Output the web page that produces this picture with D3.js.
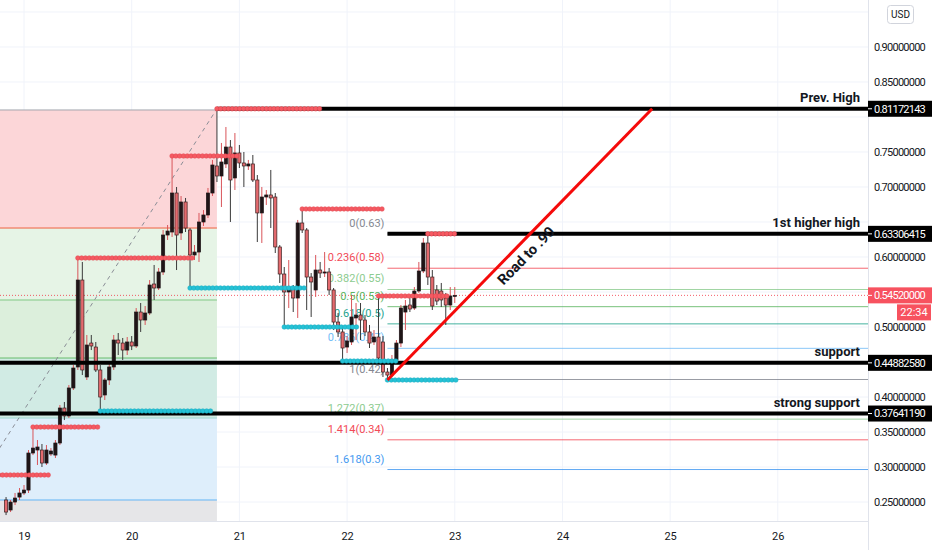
<!DOCTYPE html>
<html><head><meta charset="utf-8">
<script src="https://cdn.jsdelivr.net/npm/d3@7"></script>
<style>
html,body{margin:0;padding:0;background:#fff;}
svg{display:block;font-family:Roboto,"DejaVu Sans",sans-serif;}
</style></head><body>
<svg id="c" width="932" height="550"></svg>
<script>
// ---------------- DATA ----------------
// hourly candles, first candle = 18th 20:00 (hour -4 relative to 19th 00:00)
const firstHour = -4;
const opens = [0.2529,0.2386,0.2500,0.2571,0.2629,0.2671,0.3200,0.3243,0.3243,0.3057,
0.3186,0.3171,0.3343,0.3843,0.3729,0.4129,0.4429,0.5671,0.4286,0.4771,
0.4714,0.4386,0.4029,0.4243,0.4429,0.4814,0.4771,0.4671,0.4786,0.4729,
0.5214,0.5100,0.5200,0.5614,0.5557,0.5786,0.6314,0.6357,0.6914,0.6343,
0.6786,0.6386,0.6029,0.6071,0.6500,0.6600,0.6914,0.7300,0.7157,0.7329,
0.7571,0.7129,0.7486,0.7343,0.7300,0.7329,0.7100,0.6629,0.6857,0.6886,
0.6857,0.6143,0.5757,0.5500,0.5543,0.5414,0.6486,0.6386,0.5714,0.5529,
0.5814,0.5771,0.5786,0.5529,0.5071,0.4929,0.4714,0.4786,0.5129,0.5171,
0.5100,0.4929,0.4786,0.4857,0.4786,0.4357,0.4314,0.4529,0.4771,0.5214,
0.5314,0.5271,0.5514,0.5800,0.6200,0.5714,0.5529,0.5514,0.5414,0.5314,
0.5443];
const highs = [0.2571,0.2529,0.2629,0.2700,0.2743,0.3243,0.3571,0.3386,0.3329,0.3314,
0.3271,0.3386,0.3886,0.3929,0.4171,0.4457,0.5986,0.5929,0.4886,0.4886,
0.4786,0.4457,0.4271,0.4500,0.4886,0.4914,0.4843,0.4857,0.4871,0.5271,
0.5343,0.5300,0.5671,0.5886,0.5843,0.6386,0.6457,0.7443,0.7000,0.6871,
0.6843,0.6414,0.6171,0.6629,0.6671,0.6986,0.7386,0.8117,0.7629,0.7857,
0.7671,0.7771,0.7600,0.7500,0.7386,0.7457,0.7171,0.7000,0.6957,0.7243,
0.6914,0.6171,0.5857,0.5957,0.5600,0.6529,0.6686,0.6414,0.5771,0.6029,
0.5929,0.6071,0.5843,0.5557,0.5200,0.4986,0.4871,0.5457,0.5343,0.5343,
0.5171,0.5029,0.4957,0.5443,0.4871,0.4414,0.4600,0.4814,0.5314,0.5386,
0.5414,0.5571,0.5929,0.6271,0.6331,0.5814,0.5600,0.5629,0.5486,0.5571,
0.5571];
const lows = [0.2314,0.2357,0.2457,0.2529,0.2600,0.2629,0.3171,0.3029,0.3000,0.3029,
0.3157,0.3129,0.3314,0.3671,0.3700,0.4100,0.4386,0.4314,0.4243,0.4671,
0.4357,0.3800,0.3957,0.4171,0.4386,0.4600,0.4529,0.4600,0.4671,0.4700,
0.4929,0.5029,0.5171,0.5386,0.5529,0.5743,0.6243,0.6286,0.5814,0.6243,
0.6357,0.5557,0.5957,0.5929,0.6443,0.6557,0.6871,0.7071,0.6714,0.7271,
0.6500,0.6957,0.7271,0.7000,0.7243,0.7071,0.6214,0.6200,0.6743,0.6414,
0.6057,0.5629,0.5000,0.5271,0.5214,0.5129,0.6343,0.5243,0.5143,0.5429,
0.5700,0.5714,0.5457,0.4957,0.4857,0.4514,0.4629,0.4743,0.4814,0.4814,
0.4871,0.4700,0.4743,0.4529,0.4286,0.4243,0.4286,0.4500,0.4714,0.4957,
0.5214,0.5243,0.5486,0.5771,0.5600,0.5243,0.5314,0.5286,0.5029,0.5243,
0.5343];
const closes = [0.2357,0.2500,0.2557,0.2629,0.2671,0.3200,0.3271,0.3286,0.3057,0.3243,
0.3229,0.3343,0.3843,0.3729,0.4129,0.4414,0.5671,0.4386,0.4743,0.4729,
0.4386,0.4000,0.4243,0.4429,0.4814,0.4771,0.4671,0.4786,0.4729,0.5214,
0.5100,0.5200,0.5600,0.5557,0.5786,0.6314,0.6371,0.6914,0.6314,0.6786,
0.6414,0.6029,0.6071,0.6500,0.6600,0.6914,0.7314,0.7157,0.7357,0.7571,
0.7100,0.7486,0.7343,0.7300,0.7329,0.7100,0.6629,0.6857,0.6886,0.6843,
0.6143,0.5757,0.5500,0.5543,0.5414,0.6486,0.6386,0.5714,0.5643,0.5814,
0.5771,0.5786,0.5529,0.5071,0.4929,0.4700,0.4800,0.5143,0.5171,0.5100,
0.4929,0.4771,0.4857,0.4557,0.4357,0.4314,0.4529,0.4771,0.5271,0.5300,
0.5257,0.5514,0.5800,0.6200,0.5714,0.5300,0.5371,0.5386,0.5314,0.5443,
0.5452];

// pivot highs / lows (price, from hour, to hour)
const pivotHighPrice = [0.2886,0.3571,0.5986,0.7443,0.8117,0.6686,0.5443,0.6331];
const pivotHighFrom  = [-9,2,12,33,43,62,79,90];
const pivotHighTo    = [6.2,16.5,37.4,47.7,66.4,80.4,95,96.4];
const pivotLowPrice  = [0.3800,0.5557,0.5000,0.4514,0.4243];
const pivotLowFrom   = [17,37,58,71,81];
const pivotLowTo     = [41.7,62.4,74.2,83.3,96.4];

// fib retracement
const fibStartPrice = 0.63306;
const fibEndPrice = 0.4250;
const fibFromHour = 81;
const fibLevels = [0,0.236,0.382,0.5,0.618,0.786,1,1.272,1.414,1.618];
const fibLabels = ["0(0.63)","0.236(0.58)","0.382(0.55)","0.5(0.53)","0.618(0.5)","0.786(0.47)","1(0.42)","1.272(0.37)","1.414(0.34)","1.618(0.3)"];
const fibColors = ["#787b86","#f23645","#81c784","#4caf50","#089981","#64b5f6","#787b86","#81c784","#f23645","#2f8fef"];

// left shaded fib zones (price bounds, top -> bottom)
const zoneBounds = [0.8100,0.6414,0.5386,0.4557,0.3700,0.2529,0.2214];
const zoneFills = ["#fcd6d8","#e6f4e6","#dcefdc","#d1ebe4","#deeefb","#e6e6e8"];
const zoneLineColors = ["#a3a6af","#f0603f","#81c784","#66bb6a","#9fd6d0","#64b5f6","#e0e0e0"];
const zoneFromHour = -16, zoneToHour = 43;
const diagFrom = [-16,0.2214], diagTo = [43,0.8117];

// key levels
const levelPrices = [0.81172143,0.63306415,0.44882580,0.37641190];
const levelNames = ["Prev. High","1st higher high","support","strong support"];
const levelFromHour = [43,81,-20,-20];

// trend line
const trendFrom = [81,0.4243], trendTo = [140,0.8117];
const trendText = "Road to .90";

const lastPrice = 0.5452;
const countdown = "22:34";
const priceTicks = [0.25,0.30,0.35,0.40,0.45,0.50,0.55,0.60,0.65,0.70,0.75,0.80,0.85,0.90,0.95];
const dayHours = [0,24,48,72,96,120,144,168];
const dayLabels = ["19","20","21","22","23","24","25","26"];

// ---------------- DRAW ----------------
const plotW = 868, plotH = 521;
const svg = d3.select("#c");
const x = d3.scaleLinear().domain([-5.35,188.1]).range([0,plotW]);
const y = d3.scaleLinear().domain([0.9671,0.2229]).range([0,plotH]);

svg.append("defs").append("clipPath").attr("id","clip")
  .append("rect").attr("x",0).attr("y",0).attr("width",plotW).attr("height",plotH);
const g = svg.append("g").attr("clip-path","url(#clip)");

// grid
g.selectAll(".hg").data(priceTicks).join("line")
  .attr("x1",0).attr("x2",plotW).attr("y1",d=>y(d)).attr("y2",d=>y(d))
  .attr("stroke","#f0f3fa").attr("stroke-width",1);
g.selectAll(".vg").data(dayHours).join("line")
  .attr("y1",0).attr("y2",plotH).attr("x1",d=>x(d)).attr("x2",d=>x(d))
  .attr("stroke","#f0f3fa").attr("stroke-width",1);

// zones
const zx0 = Math.max(0,x(zoneFromHour)), zx1 = x(zoneToHour);
for(let i=0;i<zoneFills.length;i++){
  g.append("rect").attr("x",zx0).attr("width",zx1-zx0)
    .attr("y",y(zoneBounds[i])).attr("height",y(zoneBounds[i+1])-y(zoneBounds[i]))
    .attr("fill",zoneFills[i]);
}
zoneBounds.forEach((b,i)=>{
  g.append("line").attr("x1",zx0).attr("x2",zx1).attr("y1",y(b)).attr("y2",y(b))
   .attr("stroke",zoneLineColors[i]).attr("stroke-width",1);
});

// current price dotted line
g.append("line").attr("x1",0).attr("x2",plotW).attr("y1",y(lastPrice)).attr("y2",y(lastPrice))
  .attr("stroke","#f23645").attr("stroke-width",1).attr("stroke-dasharray","1,2").attr("opacity",0.8);

// fib
const fibPrice = l => fibStartPrice - l*(fibStartPrice-fibEndPrice);
fibLevels.forEach((l,i)=>{
  const yy = y(fibPrice(l));
  g.append("line").attr("x1",x(fibFromHour)).attr("x2",plotW).attr("y1",yy).attr("y2",yy)
   .attr("stroke",fibColors[i]).attr("stroke-width",1).attr("opacity",0.75);
  g.append("text").attr("x",x(fibFromHour)-3).attr("y",yy-7).attr("text-anchor","end")
   .attr("font-size",11).attr("fill",fibColors[i]).attr("opacity",0.9).text(fibLabels[i]);
});

// dashed diagonal
g.append("line").attr("x1",x(diagFrom[0])).attr("y1",y(diagFrom[1]))
  .attr("x2",x(diagTo[0])).attr("y2",y(diagTo[1]))
  .attr("stroke","#8a8d96").attr("stroke-width",1).attr("stroke-dasharray","4,4");

// candles
const candles = opens.map((o,i)=>({h:firstHour+i,o,hi:highs[i],lo:lows[i],c:closes[i]}));
const cg = g.append("g");
candles.forEach(d=>{
  const up = d.c >= d.o;
  const cx = x(d.h);
  cg.append("line").attr("x1",cx).attr("x2",cx).attr("y1",y(d.hi)).attr("y2",y(d.lo))
    .attr("stroke", up ? "#d9555a" : "#3a3a3a").attr("stroke-width",1);
  const top = y(Math.max(d.o,d.c)), bot = y(Math.min(d.o,d.c));
  cg.append("rect").attr("x",cx-1.6).attr("width",3.2)
    .attr("y",top).attr("height",Math.max(1,bot-top))
    .attr("fill", up ? "#1f1517" : "#e46a6e")
    .attr("stroke", up ? "#1f1517" : "#3b2020").attr("stroke-width",0.7);
});

// black key levels
levelPrices.forEach((p,i)=>{
  g.append("line").attr("x1",Math.max(0,x(levelFromHour[i]))).attr("x2",plotW)
   .attr("y1",y(p)).attr("y2",y(p)).attr("stroke","#000").attr("stroke-width",4);
});

// pivot dots
function dots(price, from, to, fill, stroke){
  const x0 = x(from), x1 = x(to);
  const pts = d3.range(x0, x1+0.1, 3.8).filter(v=>v>=-3);
  g.append("g").selectAll("circle").data(pts).join("circle")
   .attr("cx",d=>d).attr("cy",y(price)).attr("r",2.3)
   .attr("fill",fill).attr("stroke",stroke).attr("stroke-width",0.5);
}
pivotHighPrice.forEach((p,i)=>dots(p,pivotHighFrom[i],pivotHighTo[i],"#f55a62","#e0454e"));
pivotLowPrice.forEach((p,i)=>dots(p,pivotLowFrom[i],pivotLowTo[i],"#25c2d6","#17a9bd"));

// trend line
const tx1 = x(trendFrom[0]), ty1 = y(trendFrom[1]), tx2 = x(trendTo[0]), ty2 = y(trendTo[1]);
g.append("line").attr("x1",tx1).attr("y1",ty1).attr("x2",tx2).attr("y2",ty2)
  .attr("stroke","#f50a0a").attr("stroke-width",3);
const ang = Math.atan2(ty2-ty1, tx2-tx1)*180/Math.PI;
const len = Math.hypot(tx2-tx1, ty2-ty1);
const ux = (tx2-tx1)/len, uy = (ty2-ty1)/len;
const tcx = tx1 + (tx2-tx1)*0.49 - uy*13.5, tcy = ty1 + (ty2-ty1)*0.49 + ux*13.5;
g.append("text").attr("transform",`translate(${tcx},${tcy}) rotate(${ang})`)
  .attr("text-anchor","middle").attr("dominant-baseline","middle")
  .attr("font-size",14.5).attr("font-weight","bold").attr("fill","#131722").text(trendText);

// level names
levelPrices.forEach((p,i)=>{
  g.append("text").attr("x",860).attr("y",y(p)-7).attr("text-anchor","end")
   .attr("font-size",13).attr("font-weight","bold").attr("fill","#131722").text(levelNames[i]);
});

// axes separators
svg.append("line").attr("x1",plotW+0.5).attr("x2",plotW+0.5).attr("y1",0).attr("y2",550).attr("stroke","#e0e3eb");
svg.append("line").attr("x1",0).attr("x2",plotW).attr("y1",plotH+0.5).attr("y2",plotH+0.5).attr("stroke","#e0e3eb");

// right axis (labels covered by price boxes / badge are not drawn)
const boxPrices = levelPrices.concat([lastPrice]);
const visibleTicks = priceTicks.filter(t => y(t) > 26 && boxPrices.every(b => Math.abs(y(t)-y(b)) > 13));
const ra = svg.append("g").attr("transform",`translate(${plotW},0)`)
  .call(d3.axisRight(y).tickValues(visibleTicks).tickSize(0).tickPadding(6).tickFormat(d3.format(".8f")));
ra.select(".domain").remove();
ra.selectAll("text").attr("font-size",11).attr("fill","#131722").attr("letter-spacing","-0.75px")
  .attr("font-family","Roboto, sans-serif");

// bottom axis
const ba = svg.append("g").attr("transform",`translate(0,${plotH})`)
  .call(d3.axisBottom(x).tickValues(dayHours).tickSize(0).tickPadding(11).tickFormat((d,i)=>dayLabels[i]));
ba.select(".domain").remove();
ba.selectAll("text").attr("font-size",11).attr("fill","#131722").attr("font-family","Roboto, sans-serif");

// price boxes
function priceBox(p, fill){
  const yy = y(p);
  svg.append("rect").attr("x",plotW).attr("y",yy-8).attr("width",64).attr("height",16).attr("fill",fill);
  svg.append("line").attr("x1",plotW).attr("x2",plotW+4).attr("y1",yy).attr("y2",yy).attr("stroke","#fff");
  svg.append("text").attr("x",plotW+6).attr("y",yy).attr("dy","0.35em").attr("font-size",11)
    .attr("letter-spacing","-0.75px").attr("fill","#fff").text(d3.format(".8f")(p));
}
levelPrices.forEach(p=>priceBox(p,"#000"));
priceBox(lastPrice,"#f7525f");
svg.append("rect").attr("x",897).attr("y",y(lastPrice)+9).attr("width",34).attr("height",16).attr("fill","#f7525f");
svg.append("text").attr("x",914).attr("y",y(lastPrice)+17).attr("dy","0.35em").attr("text-anchor","middle")
  .attr("font-size",11).attr("fill","#fff").text(countdown);

// USD badge
svg.append("rect").attr("x",887.5).attr("y",5.5).attr("width",26).attr("height",18).attr("rx",3)
  .attr("fill","#fff").attr("stroke","#d1d4dc");
svg.append("text").attr("x",900.5).attr("y",14.5).attr("dy","0.35em").attr("text-anchor","middle")
  .attr("font-size",10).attr("fill","#131722").text("USD");
</script>
</body></html>
